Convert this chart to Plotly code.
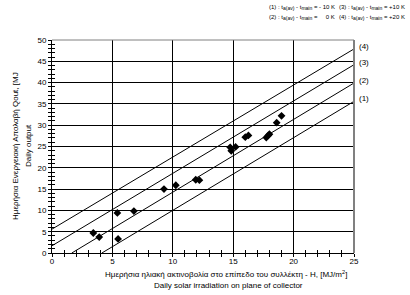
import plotly.graph_objects as go

# Measured points: daily solar irradiation H [MJ/m2] vs daily output Qout [MJ]
H_values = [3.42, 3.91, 5.41, 5.47, 6.78, 9.27, 10.25, 11.9, 12.2,
            14.75, 14.84, 15.2, 16.0, 16.26, 17.74, 17.9, 18.0, 18.6, 19.0]
Q_values = [4.7, 3.75, 9.4, 3.3, 9.85, 15.0, 15.9, 17.2, 17.1,
            24.8, 24.0, 24.9, 27.2, 27.6, 27.1, 27.6, 27.9, 30.6, 32.2]

# Characteristic lines (1)..(4)
line_names = ["(1)", "(2)", "(3)", "(4)"]
line_x0 = [4.13, 1.64, 0.0, 0.0]
line_y0 = [0.0, 0.0, 1.7, 5.6]
line_x1 = [25.0, 25.0, 25.0, 25.0]
line_y1 = [35.6, 39.9, 44.2, 47.9]

x_ticks = [0, 5, 10, 15, 20, 25]
y_ticks = [0, 5, 10, 15, 20, 25, 30, 35, 40, 45, 50]

SA = '<sub><span style="font-size:5px">a(av)</span></sub>'
SM = '<sub><span style="font-size:5px">main</span></sub>'
legend_rows = [
    ["(1) : t" + SA + " - t" + SM + " = - 10 K",
     "(3) : t" + SA + " - t" + SM + " = +10 K"],
    ["(2) : t" + SA + " - t" + SM + " =\u00a0\u00a0\u00a0\u00a0 0 K",
     "(4) : t" + SA + " - t" + SM + " = +20 K"],
]

FONT = "Liberation Sans, Arial, sans-serif"
W, H = 410, 295
L, R, T, B = 52, 56, 40, 42

def px_to_paper_x(px):
    return (px - L) / (W - L - R)

def px_to_paper_y(py):
    return (H - B - py) / (H - T - B)

fig = go.Figure()

for i, name in enumerate(line_names):
    fig.add_trace(go.Scatter(
        x=[line_x0[i], line_x1[i]], y=[line_y0[i], line_y1[i]],
        mode="lines", line=dict(color="black", width=1),
        showlegend=False, hoverinfo="skip"))
    fig.add_annotation(x=line_x1[i], y=line_y1[i], text=name, showarrow=False,
                       xanchor="left", yanchor="bottom", xshift=3, yshift=-4,
                       font=dict(family=FONT, size=8, color="black"))

fig.add_trace(go.Scatter(
    x=H_values, y=Q_values, mode="markers",
    marker=dict(symbol="diamond", size=6, color="black"),
    showlegend=False, hoverinfo="skip", xaxis="x", yaxis="y"))

# invisible trace on overlay axes for inside ticks
fig.add_trace(go.Scatter(x=[0], y=[0], mode="markers", marker=dict(opacity=0),
                         xaxis="x2", yaxis="y2", showlegend=False, hoverinfo="skip"))

common_minor = dict(dtick=1, ticklen=3, tickcolor="black", showgrid=False)

fig.update_layout(
    width=W, height=H,
    margin=dict(l=L, r=R, t=T, b=B),
    paper_bgcolor="white", plot_bgcolor="white",
    font=dict(family=FONT, size=8, color="black"),
    xaxis=dict(range=[0, 25], tickvals=x_ticks, ticks="outside", ticklen=3,
               tickcolor="black", showgrid=True, gridcolor="black", gridwidth=1,
               showline=True, linecolor="black", linewidth=1, zeroline=False,
               minor=dict(ticks="outside", **common_minor),
               ticklabelstandoff=-3,
               tickfont=dict(family=FONT, size=8), fixedrange=True),
    yaxis=dict(range=[0, 50], tickvals=y_ticks, ticks="outside", ticklen=3,
               tickcolor="black", showgrid=True, gridcolor="black", gridwidth=1,
               showline=True, linecolor="black", linewidth=1, zeroline=False,
               minor=dict(ticks="outside", **common_minor),
               tickfont=dict(family=FONT, size=8), fixedrange=True),
    xaxis2=dict(range=[0, 25], overlaying="x", tickvals=x_ticks, ticks="inside",
                ticklen=3, tickcolor="black", showticklabels=False, showgrid=False,
                zeroline=False, minor=dict(ticks="inside", **common_minor),
                side="bottom", fixedrange=True),
    yaxis2=dict(range=[0, 50], overlaying="y", tickvals=y_ticks, ticks="inside",
                ticklen=3, tickcolor="black", showticklabels=False, showgrid=False,
                zeroline=False, minor=dict(ticks="inside", **common_minor),
                side="left", fixedrange=True),
    showlegend=False,
)

# grey top and right border
fig.add_shape(type="line", xref="paper", yref="paper", x0=1, x1=1, y0=0, y1=1,
              line=dict(color="#808080", width=2))
fig.add_shape(type="line", xref="paper", yref="paper", x0=0, x1=1, y0=1, y1=1,
              line=dict(color="#808080", width=1))

# axis titles
def add_text(px, py, text, size=8, angle=0, xanchor="center"):
    fig.add_annotation(xref="paper", yref="paper", x=px_to_paper_x(px), y=px_to_paper_y(py),
                       text=text, textangle=angle, showarrow=False,
                       xanchor=xanchor, yanchor="middle",
                       font=dict(family=FONT, size=size, color="black"))

add_text(15, 146, "Ημερήσια Ενεργειακή Απολαβή Qout, [MJ", angle=-90)
add_text(28, 146, "Daily output", angle=-90)
add_text(226, 274, "Ημερήσια ηλιακή ακτινοβολία στο επίπεδο του συλλέκτη - H, [MJ/m<sup>2</sup>]")
add_text(228, 285, "Daily solar irradiation on plane of collector")

# legend text
col_x = [267, 337]
row_y = [7, 17]
for r, row in enumerate(legend_rows):
    for c, txt in enumerate(row):
        add_text(col_x[c], row_y[r], txt, size=6, xanchor="left")

fig.write_html("out.html", config={"displayModeBar": False},
               post_script="document.body.style.margin='0';document.body.style.padding='0';")
